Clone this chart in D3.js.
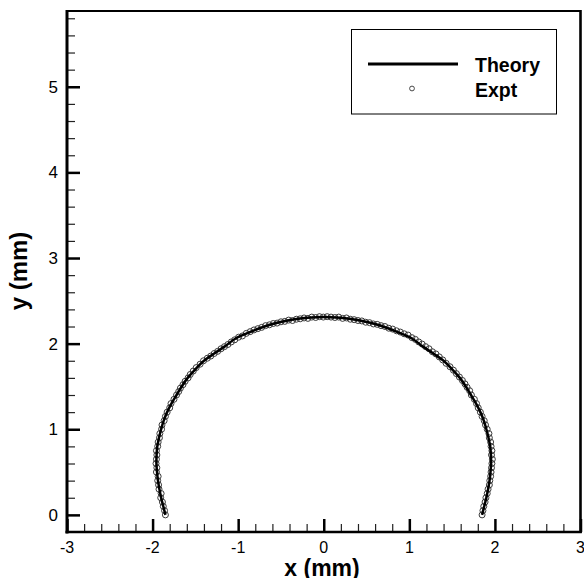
<!DOCTYPE html>
<html><head><meta charset="utf-8">
<script src="https://cdn.jsdelivr.net/npm/d3@7"></script>
<style>body{margin:0;background:#fff}svg{display:block;font-family:"Liberation Sans",Arial,sans-serif}</style>
</head><body><svg id="c" width="584" height="578"></svg>
<script>
// ---- data ----
const xTicks = [-3, -2, -1, 0, 1, 2, 3];
const yTicks = [0, 1, 2, 3, 4, 5];
const legendLabels = ["Theory", "Expt"];

const theoryX = [-1.85,-1.875,-1.90,-1.92,-1.937,-1.948,-1.955,-1.953,-1.945,-1.925,-1.90,-1.87,-1.83,-1.78,-1.72,-1.66,-1.59,-1.50,-1.40,-1.28,-1.16,-1.03,-0.90,-0.75,-0.60,-0.45,-0.30,-0.15,0,
  0.15,0.30,0.45,0.60,0.75,0.90,1.03,1.16,1.28,1.40,1.50,1.59,1.66,1.72,1.78,1.83,1.87,1.90,1.925,1.945,1.953,1.955,1.948,1.937,1.92,1.90,1.875,1.85];
const theoryY = [0,0.1,0.2,0.3,0.4,0.5,0.6,0.7,0.8,0.9,1.0,1.1,1.2,1.3,1.4,1.5,1.6,1.7,1.8,1.885,1.965,2.06,2.12,2.18,2.23,2.265,2.29,2.305,2.31,
  2.305,2.29,2.265,2.23,2.18,2.12,2.06,1.965,1.885,1.8,1.7,1.6,1.5,1.4,1.3,1.2,1.1,1.0,0.9,0.8,0.7,0.6,0.5,0.4,0.3,0.2,0.1,0];

const exptX = [-1.85,-1.86,-1.875,-1.885,-1.905,-1.90,-1.925,-1.93,-1.94,-1.935,-1.955,-1.95,-1.96,-1.955,-1.95,-1.955,-1.94,-1.935,-1.92,-1.915,-1.895,-1.89,-1.865,-1.85,-1.83,-1.80,-1.785,-1.75,-1.72,
  -1.695,-1.675,-1.645,-1.62,-1.585,-1.56,-1.525,-1.49,-1.445,-1.405,
  -1.36,-1.32,-1.28,-1.24,-1.20,-1.16,-1.12,-1.08,-1.04,
  -0.995,-0.95,-0.905,-0.86,-0.815,-0.77,-0.725,-0.68,-0.635,-0.59,-0.545,-0.50,
  -0.455,-0.41,-0.365,-0.32,-0.275,-0.23,-0.185,-0.14,-0.095,-0.05,-0.005,
  0.04,0.085,0.13,0.175,0.22,0.265,0.31,0.355,0.40,0.445,0.49,0.535,0.58,0.625,0.67,0.715,0.76,0.805,0.85,0.895,0.94,0.985,1.03,1.07,1.11,1.15,1.19,1.23,1.27,1.31,1.35,1.39,
  1.43,1.475,1.515,1.55,1.585,1.62,1.65,1.675,1.705,1.725,1.76,1.785,1.805,1.83,1.85,1.875,1.89,1.91,1.93,1.935,1.95,1.955,1.965,1.96,1.97,1.965,1.96,1.955,1.95,1.94,1.935,1.92,1.91,1.895,1.885,1.87,1.86,1.85];
const exptY = [0.00,0.05,0.10,0.15,0.20,0.25,0.30,0.35,0.40,0.45,0.50,0.55,0.60,0.65,0.70,0.75,0.80,0.85,0.90,0.95,1.00,1.05,1.10,1.15,1.20,1.25,1.30,1.35,1.40,
  1.44,1.48,1.52,1.56,1.60,1.64,1.68,1.72,1.76,1.80,
  1.83,1.855,1.885,1.91,1.94,1.965,1.99,2.02,2.045,
  2.075,2.09,2.12,2.14,2.16,2.175,2.19,2.21,2.22,2.235,2.24,2.255,
  2.26,2.275,2.27,2.285,2.29,2.30,2.295,2.31,2.305,2.315,2.31,
  2.315,2.31,2.305,2.31,2.295,2.30,2.285,2.28,2.27,2.265,2.25,2.245,2.23,2.225,2.21,2.20,2.18,2.17,2.15,2.135,2.115,2.10,2.07,2.05,2.02,1.995,1.965,1.94,1.905,1.88,1.845,1.81,
  1.77,1.73,1.69,1.65,1.61,1.57,1.53,1.49,1.45,1.40,1.35,1.30,1.25,1.20,1.15,1.10,1.05,1.00,0.95,0.90,0.85,0.80,0.75,0.70,0.65,0.60,0.55,0.50,0.45,0.40,0.35,0.30,0.25,0.20,0.15,0.10,0.05,0.00];

// ---- chart ----
const svg = d3.select("#c");
const L = 67, R = 580.5, T = 11, B = 532;
const x = d3.scaleLinear().domain([-3, 3]).range([L, R]);
const y = d3.scaleLinear().domain([-0.2, 5.885]).range([B, T]);

const xMinor = d3.range(-3, 3.001, 0.2).filter(v => Math.abs(v - Math.round(v)) > 1e-6);
const yMinor = d3.range(0, 5.85, 0.2).filter(v => Math.abs(v - Math.round(v)) > 1e-6);

// experimental circles then theory line
svg.append("g").selectAll("circle").data(exptX).join("circle")
  .attr("cx", (d, i) => x(exptX[i])).attr("cy", (d, i) => y(exptY[i])).attr("r", 3)
  .attr("fill", "none").attr("stroke", "#3a3a3a").attr("stroke-width", 1);

const line = d3.line().x((d, i) => x(theoryX[i])).y((d, i) => y(theoryY[i])).curve(d3.curveCatmullRom);
svg.append("path").datum(theoryX).attr("d", line).attr("fill", "none").attr("stroke", "#000").attr("stroke-width", 2.5);

// axes (ticks pointing inward)
const gx = svg.append("g").attr("transform", `translate(0,${B})`).call(d3.axisTop(x).tickValues(xTicks).tickSize(13).tickFormat(""));
gx.select(".domain").remove();
gx.selectAll("line").attr("stroke-width", 2.5).attr("stroke", "#000");
const gxm = svg.append("g").attr("transform", `translate(0,${B})`).call(d3.axisTop(x).tickValues(xMinor).tickSize(8).tickFormat(""));
gxm.select(".domain").remove();
gxm.selectAll("line").attr("stroke-width", 1.2).attr("stroke", "#222");

const gy = svg.append("g").attr("transform", `translate(${L},0)`).call(d3.axisRight(y).tickValues(yTicks).tickSize(13).tickFormat(""));
gy.select(".domain").remove();
gy.selectAll("line").attr("stroke-width", 2.5).attr("stroke", "#000");
const gym = svg.append("g").attr("transform", `translate(${L},0)`).call(d3.axisRight(y).tickValues(yMinor).tickSize(8).tickFormat(""));
gym.select(".domain").remove();
gym.selectAll("line").attr("stroke-width", 1.2).attr("stroke", "#222");

// tick labels
svg.append("g").selectAll("text").data(xTicks).join("text")
  .attr("x", d => x(d)).attr("y", 553).attr("text-anchor", "middle")
  .attr("font-size", 16).text(d => d);
svg.append("g").selectAll("text").data(yTicks).join("text")
  .attr("x", 58).attr("y", d => y(d) + 6).attr("text-anchor", "end")
  .attr("font-size", 17).text(d => d);

// frame
svg.append("line").attr("x1", L).attr("x2", R).attr("y1", T).attr("y2", T).attr("stroke", "#000").attr("stroke-width", 2.2);
svg.append("line").attr("x1", R).attr("x2", R).attr("y1", T - 1).attr("y2", B + 1).attr("stroke", "#000").attr("stroke-width", 2.6);
svg.append("line").attr("x1", L).attr("x2", L).attr("y1", T - 1).attr("y2", B + 1.5).attr("stroke", "#000").attr("stroke-width", 3);
svg.append("line").attr("x1", L - 1.5).attr("x2", R + 1.3).attr("y1", B).attr("y2", B).attr("stroke", "#000").attr("stroke-width", 2.6);

// axis titles
svg.append("text").attr("x", 322).attr("y", 576).attr("text-anchor", "middle")
  .attr("font-size", 23).attr("font-weight", "bold").text("x (mm)");
svg.append("text").attr("transform", "translate(27,271) rotate(-90)").attr("text-anchor", "middle")
  .attr("font-size", 24).attr("font-weight", "bold").text("y (mm)");

// legend
const lg = svg.append("g");
lg.append("rect").attr("x", 351.5).attr("y", 29.5).attr("width", 205).attr("height", 84.5)
  .attr("fill", "#fff").attr("stroke", "#000").attr("stroke-width", 1);
lg.append("line").attr("x1", 368).attr("x2", 458).attr("y1", 64).attr("y2", 64).attr("stroke", "#000").attr("stroke-width", 3);
lg.append("circle").attr("cx", 412).attr("cy", 88.5).attr("r", 2.4).attr("fill", "none").attr("stroke", "#333").attr("stroke-width", 0.9);
lg.selectAll("text").data(legendLabels).join("text")
  .attr("x", 475).attr("y", (d, i) => i === 0 ? 71.5 : 97).attr("font-size", 19.5).attr("font-weight", "bold").text(d => d);
</script></body></html>
